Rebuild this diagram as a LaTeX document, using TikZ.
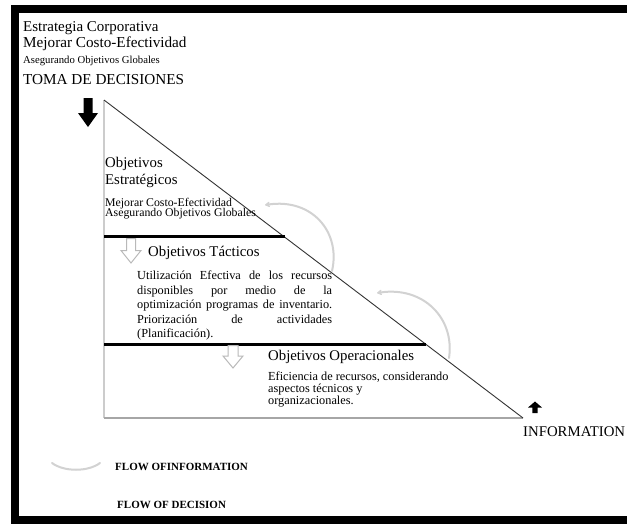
\documentclass[tikz,border=0pt]{standalone}
\usepackage{fontspec}
\setmainfont{Liberation Serif}
\usetikzlibrary{arrows.meta,calc}
\tikzset{
  lbl/.style={inner sep=0pt, anchor=base west},
  hdrbig/.style={lbl, font=\fontsize{15}{17}\selectfont},
  hdr/.style={lbl, font=\fontsize{15.2}{17}\selectfont},
  hdrsmall/.style={lbl, font=\fontsize{10.7}{12}\selectfont},
  objtitle/.style={lbl, font=\fontsize{14.8}{17}\selectfont},
  objsub/.style={lbl, font=\fontsize{11.8}{12}\selectfont},
  bodytxt/.style={lbl, font=\fontsize{12.3}{14}\selectfont},
  legendtxt/.style={lbl, font=\bfseries\fontsize{11}{12}\selectfont},
  thickline/.style={line width=3pt, black},
  hollowarrow/.style={draw=gray!55, fill=white, line width=1pt, line join=miter},
  solidarrow/.style={fill=black, draw=none},
  flowinfo/.style={draw=gray!35, line width=2pt, line cap=round},
  flowtip/.style={-{Stealth[length=6pt,width=7pt,round]}}
}
\begin{document}
\begin{tikzpicture}[x=1pt,y=-1pt]
\useasboundingbox (0,0) rectangle (627,525);
\clip (0,0) rectangle (627,525);
\fill[white] (0,0) rectangle (627,525);
% frame
\draw[line width=8pt] (14.5,9) rectangle (680,519.5);

% triangle
\coordinate (A) at (104,100);
\coordinate (B) at (104,418);
\coordinate (C) at (523,418);
\draw[gray!40, line width=1.6pt] (A) -- (B);
\draw[gray!70, line width=1.2pt] (B) -- (C);
\draw[black!80, line width=0.9pt] (A) -- (C);

% thick separators
\coordinate (L1e) at ($(A)!0.4308!(C)$);
\coordinate (L2e) at ($(A)!0.7673!(C)$);
\draw[thickline] (A |- L1e) -- (L1e);
\draw[thickline] (A |- L2e) -- (L2e);

% header texts
\node[hdrbig] (t1) at (23,31) {Estrategia Corporativa};
\node[hdr] (t2) at (23,47.5) {Mejorar Costo-Efectividad};
\node[hdrsmall] (t3) at (23,63) {Asegurando Objetivos Globales};
\node[hdr] (t4) at (23,84.5) {TOMA DE DECISIONES};

% solid arrows
\fill[solidarrow, shift={(88,98)}] (-4.5,0) -- (4.5,0) -- (4.5,15) -- (10,15) -- (0,29) -- (-10,15) -- (-4.5,15) -- cycle;
\fill[solidarrow, shift={(535,401.5)}] (0,0) -- (7,6) -- (2.6,6) -- (2.6,11.5) -- (-2.6,11.5) -- (-2.6,6) -- (-7,6) -- cycle;

% hollow arrows
\draw[hollowarrow, shift={(131,238.5)}] (-4.5,0) -- (4.5,0) -- (4.5,12) -- (10,12) -- (0,24.5) -- (-10,12) -- (-4.5,12) -- cycle;
\draw[hollowarrow, shift={(233,345.5)}] (-5,0) -- (5,0) -- (5,10.5) -- (10,10.5) -- (0,22.5) -- (-10,10.5) -- (-5,10.5) -- cycle;

% strategic objectives
\node[objtitle] (o1) at (105,167.5) {Objetivos};
\node[objtitle] (o2) at (105,184.5) {Estratégicos};
\node[objsub] (o3) at (105,206) {Mejorar Costo-Efectividad};
\node[objsub] (o4) at (105,216.5) {Asegurando Objetivos Globales};

% tactical objectives
\node[objtitle] (tac) at (148,256) {Objetivos Tácticos};
\node[bodytxt] (p1a) at (137,279.5) {\makebox[195pt][s]{Utilización Efectiva de los recursos}};
\node[bodytxt] (p1b) at (137,294) {\makebox[195pt][s]{disponibles por medio de la}};
\node[bodytxt] (p1c) at (137,308.5) {\makebox[195pt][s]{optimización programas de inventario.}};
\node[bodytxt] (p1d) at (137,323) {\makebox[195pt][s]{Priorización de actividades}};
\node[bodytxt] (p1e) at (137,337.5) {(Planificación).};

% operational objectives
\node[objtitle] (op) at (268,360.5) {Objetivos Operacionales};
\node[bodytxt] (p2a) at (268,380) {Eficiencia de recursos, considerando};
\node[bodytxt] (p2b) at (268,392) {aspectos técnicos y};
\node[bodytxt] (p2c) at (268,404) {organizacionales.};

\node[objtitle] (info) at (523,436) {INFORMATION};

% flow of information arcs
\coordinate (f1s) at (332,271);
\coordinate (f1e) at (265,205);
\draw[flowinfo, flowtip] (f1s) .. controls (341,232) and (312,198) .. (f1e);
\coordinate (f2s) at (449,358);
\coordinate (f2e) at (377,293);
\draw[flowinfo, flowtip] (f2s) .. controls (455,318) and (423,286) .. (f2e);

% legend
\coordinate (lg1) at (52,463);
\coordinate (lg2) at (100,463);
\draw[flowinfo] (lg1) .. controls (64,472) and (88,472) .. (lg2);
\node[legendtxt] (lgi) at (115,470) {FLOW OFINFORMATION};
\node[legendtxt] (lgd) at (117,508) {FLOW OF DECISION};
\end{tikzpicture}
\end{document}
